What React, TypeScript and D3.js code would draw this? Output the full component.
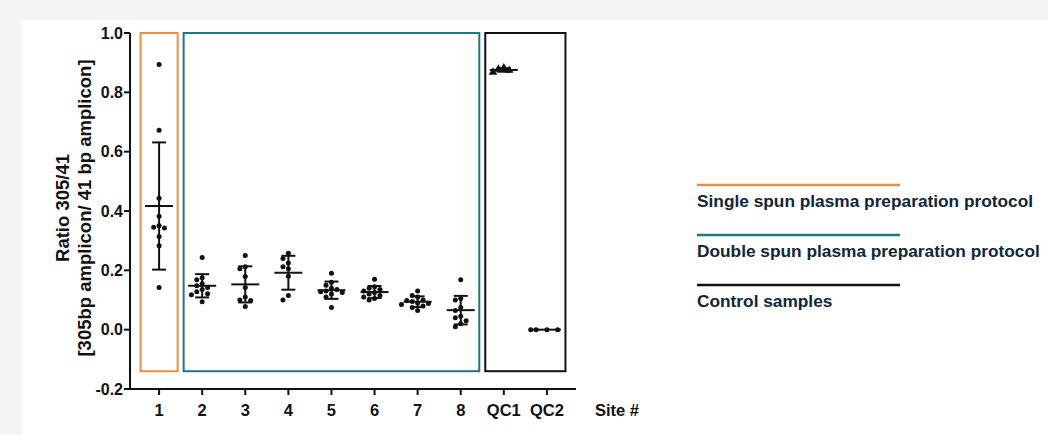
import React from "react";
import * as d3 from "d3";

const W = 1048;
const H = 435;
const margin = { top: 33, right: 472, bottom: 46, left: 130 };

const sites = ["1", "2", "3", "4", "5", "6", "7", "8", "QC1", "QC2"];
const yTicks = [-0.2, 0, 0.2, 0.4, 0.6, 0.8, 1.0];

const site1 = [0.894, 0.672, 0.443, 0.382, 0.35, 0.345, 0.343, 0.314, 0.283, 0.142];
const site2 = [0.243, 0.175, 0.168, 0.155, 0.148, 0.142, 0.135, 0.128, 0.121, 0.118, 0.094];
const site3 = [0.25, 0.212, 0.205, 0.179, 0.142, 0.11, 0.1, 0.098, 0.078];
const site4 = [0.258, 0.24, 0.225, 0.212, 0.205, 0.18, 0.115, 0.1];
const site5 = [0.19, 0.16, 0.15, 0.14, 0.135, 0.13, 0.128, 0.125, 0.12, 0.11, 0.075];
const site6 = [0.17, 0.145, 0.14, 0.135, 0.13, 0.125, 0.12, 0.115, 0.11, 0.105, 0.1];
const site7 = [0.13, 0.115, 0.11, 0.1, 0.098, 0.095, 0.09, 0.088, 0.085, 0.08, 0.075, 0.065];
const site8 = [0.168, 0.105, 0.1, 0.075, 0.065, 0.045, 0.04, 0.03, 0.02, 0.01];
const qc1 = [0.882, 0.878, 0.874, 0.868];
const qc2 = [0, 0, 0, 0];

const values = [site1, site2, site3, site4, site5, site6, site7, site8, qc1, qc2];

const groups = [
  { label: "Single spun plasma preparation protocol", color: "#f58b3c", from: "1", to: "1" },
  { label: "Double spun plasma preparation protocol", color: "#1d7684", from: "2", to: "8" },
  { label: "Control samples", color: "#111111", from: "QC1", to: "QC2" },
];

const x = d3
  .scalePoint<string>()
  .domain(sites)
  .range([margin.left, W - margin.right])
  .padding(0.675);
const y = d3
  .scaleLinear()
  .domain([-0.2, 1.0])
  .range([H - margin.bottom, margin.top]);

// simple swarm: spread overlapping points sideways
function swarm(vals: number[], cx: number) {
  const placed: { x: number; y: number }[] = [];
  const minD = 5.4;
  const sorted = [...vals].sort((a, b) => b - a);
  sorted.forEach((v) => {
    const py = y(v);
    let k = 0;
    for (;;) {
      const offs = k === 0 ? [0] : [-k * minD, k * minD];
      const ok = offs.find((o) =>
        placed.every((p) => Math.hypot(p.x - (cx + o), p.y - py) >= minD)
      );
      if (ok !== undefined) {
        placed.push({ x: cx + ok, y: py });
        break;
      }
      k++;
    }
  });
  return placed;
}

const font = "Arial, 'Liberation Sans', Helvetica, sans-serif";
const tickFmt = (t: number) => d3.format(".1f")(t).replace("\u2212", "-");

export default function App() {
  const step = x.step();
  const triangle = d3.symbol().type(d3.symbolTriangle).size(32)();
  const axisMid = (y(1.0) + y(-0.2)) / 2;

  return (
    <svg
      width={W}
      height={H}
      style={{ position: "absolute", left: 0, top: 0, fontFamily: font }}
    >
      <rect width={W} height={H} fill="#f5f5f5" />
      <rect x={22} y={20} width={W - 22} height={H - 20} fill="#ffffff" />

      {/* group frames */}
      {groups.map((g) => {
        const x0 = (x(g.from) as number) - step / 2 + 3;
        const x1 = (x(g.to) as number) + step / 2 - 3;
        return (
          <rect
            key={g.label}
            x={x0}
            y={y(1.0)}
            width={x1 - x0}
            height={y(-0.14) - y(1.0)}
            fill="none"
            stroke={g.color}
            strokeWidth={2}
          />
        );
      })}

      {/* points, mean and SD */}
      {sites.map((s, i) => {
        const vals = values[i];
        const cx = x(s) as number;
        const mean = d3.mean(vals) as number;
        const sd = d3.deviation(vals) || 0;
        const pts = swarm(vals, cx);
        return (
          <g key={s}>
            {pts.map((p, j) =>
              s === "QC1" ? (
                <path key={j} d={triangle as string} transform={`translate(${p.x},${p.y})`} fill="#111" />
              ) : (
                <circle key={j} cx={p.x} cy={p.y} r={2.5} fill="#111" />
              )
            )}
            <g stroke="#111" strokeWidth={2}>
              <line x1={cx - 14} x2={cx + 14} y1={y(mean)} y2={y(mean)} />
              {sd > 0 && (
                <>
                  <line x1={cx} x2={cx} y1={y(mean + sd)} y2={y(mean - sd)} />
                  <line x1={cx - 7} x2={cx + 7} y1={y(mean + sd)} y2={y(mean + sd)} />
                  <line x1={cx - 7} x2={cx + 7} y1={y(mean - sd)} y2={y(mean - sd)} />
                </>
              )}
            </g>
          </g>
        );
      })}

      {/* y axis */}
      <g>
        <line x1={margin.left} x2={margin.left} y1={y(1.0)} y2={y(-0.2) + 1} stroke="#111" strokeWidth={2} />
        {yTicks.map((t) => (
          <g key={t} transform={`translate(${margin.left},${y(t)})`}>
            <line x1={-6} x2={0} stroke="#111" strokeWidth={2} />
            <text x={-7} dy="0.36em" textAnchor="end" fontSize={16} fontWeight="bold" fill="#111">
              {tickFmt(t)}
            </text>
          </g>
        ))}
      </g>

      {/* x axis */}
      <g transform={`translate(0,${y(-0.2)})`}>
        <line x1={margin.left - 1} x2={W - margin.right} stroke="#111" strokeWidth={2} />
        {sites.map((s) => (
          <g key={s} transform={`translate(${x(s)},0)`}>
            <line y1={0} y2={6} stroke="#111" strokeWidth={2} />
            <text y={27} textAnchor="middle" fontSize={16.5} fontWeight="bold" fill="#111">
              {s}
            </text>
          </g>
        ))}
        <text x={W - margin.right + 19} y={27} fontSize={16.5} fontWeight="bold" fill="#111">
          Site #
        </text>
      </g>

      {/* y axis title */}
      <text
        transform={`translate(69,${axisMid - 3}) rotate(-90)`}
        textAnchor="middle"
        fontSize={18.5}
        fontWeight="bold"
        fill="#111"
      >
        <tspan x={0} dy={0}>Ratio 305/41</tspan>
        <tspan x={0} dy={22}>[305bp amplicon/ 41 bp amplicon]</tspan>
      </text>

      {/* legend */}
      {groups.map((g, i) => (
        <g key={g.label} transform={`translate(697,${185 + i * 50})`}>
          <line x1={0} x2={203} stroke={g.color} strokeWidth={2.5} />
          <text y={21.5} fontSize={17.3} fontWeight="bold" fill="#10263a">
            {g.label}
          </text>
        </g>
      ))}
    </svg>
  );
}
